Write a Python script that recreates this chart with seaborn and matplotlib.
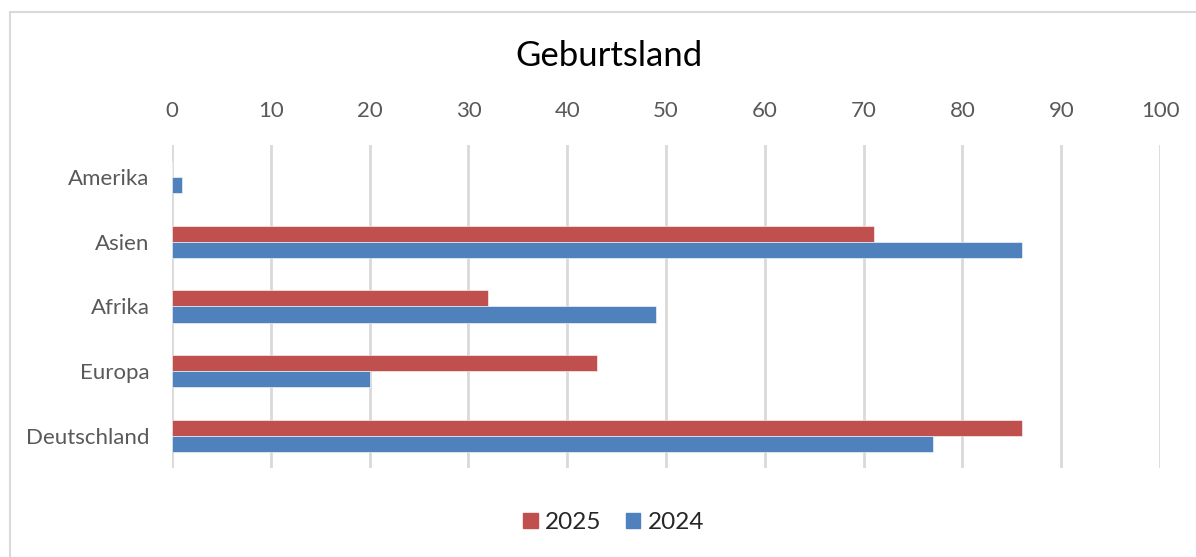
import pandas as pd
import matplotlib.pyplot as plt
import matplotlib.patches as mpatches
import seaborn as sns

# %%
regionen = ['Amerika', 'Asien', 'Afrika', 'Europa', 'Deutschland']
werte_2025 = [0, 71, 32, 43, 86]
werte_2024 = [1, 86, 49, 20, 77]
jahre = ['2025', '2024']
farben = {'2025': '#C0504D', '2024': '#4F81BD'}

df = pd.DataFrame({
    'Region': regionen * 2,
    'Jahr': ['2025'] * len(regionen) + ['2024'] * len(regionen),
    'Anzahl': werte_2025 + werte_2024,
})

# %%
sns.set_style('white')
plt.rcParams['font.family'] = ['Lato', 'DejaVu Sans']

fig = plt.figure(figsize=(11.96, 5.57), dpi=100)
ax = fig.add_axes([0.1438, 0.1598, 0.8262, 0.5799])

sns.barplot(data=df, y='Region', x='Anzahl', hue='Jahr', order=regionen,
            hue_order=jahre, palette=farben, orient='h', width=0.5,
            saturation=1, edgecolor='white', linewidth=0.4, legend=False, ax=ax)

ax.set_xlim(0, 100)
ax.set_xticks(range(0, 101, 10))
ax.xaxis.tick_top()
ax.tick_params(axis='both', length=0, labelsize=16, labelcolor='#595959')
ax.tick_params(axis='y', pad=16)
ax.tick_params(axis='x', pad=17)
ax.grid(axis='x', color='#D9D9D9', linewidth=2)
ax.set_axisbelow(True)
for s in ax.spines.values():
    s.set_visible(False)
ax.set_xlabel('')
ax.set_ylabel('')

fig.text(0.509, 0.9, 'Geburtsland', ha='center', va='center', fontsize=25, color='black')

handles = [mpatches.Patch(color=farben[j], label=j) for j in jahre]
fig.legend(handles=handles, loc='center', bbox_to_anchor=(0.513, 0.062), ncol=2,
           frameon=False, fontsize=17.5, handlelength=0.6, handleheight=0.6,
           handletextpad=0.3, columnspacing=1.0)

# Rahmen um das Diagramm
fig.add_artist(mpatches.Rectangle((10 / 1196, -0.05), 1.1, 1 - 12 / 557 + 0.05,
                                  transform=fig.transFigure, fill=False,
                                  edgecolor='#D9D9D9', linewidth=1.5))

plt.savefig('out.png', dpi=100)
